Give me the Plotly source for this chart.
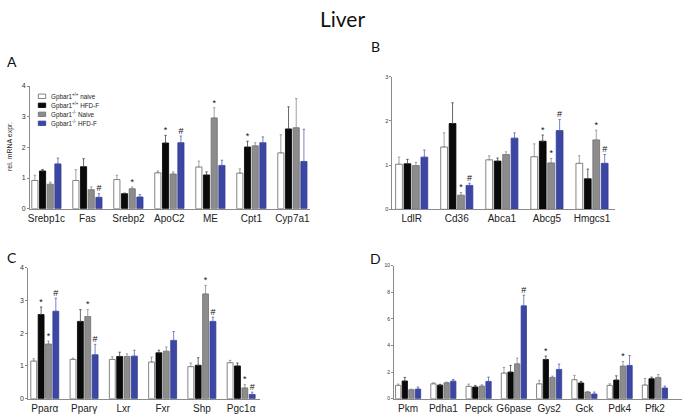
import plotly.graph_objects as go

W, H = 685, 415

series_names = ["Gpbar1<sup>+/+</sup> naive", "Gpbar1<sup>+/+</sup> HFD-F",
                "Gpbar1<sup>-/-</sup> Naive", "Gpbar1<sup>-/-</sup> HFD-F"]

# ---------------- Panel A ----------------
genes_A = ["Srebp1c", "Fas", "Srebp2", "ApoC2", "ME", "Cpt1", "Cyp7a1"]
A_wt_naive = [0.92, 0.92, 0.95, 1.17, 1.36, 1.16, 1.82]
A_wt_hfd   = [1.23, 1.37, 0.49, 2.14, 1.10, 2.01, 2.60]
A_ko_naive = [0.80, 0.62, 0.65, 1.13, 2.96, 2.05, 2.64]
A_ko_hfd   = [1.46, 0.37, 0.38, 2.15, 1.41, 2.15, 1.54]
A_err_wt_naive = [0.17, 0.35, 0.14, 0.06, 0.19, 0.14, 0.59]
A_err_wt_hfd   = [0.05, 0.26, 0.02, 0.25, 0.10, 0.19, 0.72]
A_err_ko_naive = [0.07, 0.09, 0.06, 0.07, 0.33, 0.10, 0.95]
A_err_ko_hfd   = [0.19, 0.12, 0.08, 0.22, 0.17, 0.19, 1.05]
A_sig_wt_hfd   = ["", "", "", "*", "", "*", ""]
A_sig_ko_naive = ["", "", "*", "", "*", "", ""]
A_sig_ko_hfd   = ["", "#", "", "#", "", "", ""]

# ---------------- Panel B ----------------
genes_B = ["LdlR", "Cd36", "Abca1", "Abcg5", "Hmgcs1"]
B_wt_naive = [1.02, 1.41, 1.12, 1.19, 1.04]
B_wt_hfd   = [1.03, 1.94, 1.09, 1.54, 0.69]
B_ko_naive = [0.99, 0.32, 1.24, 1.05, 1.57]
B_ko_hfd   = [1.18, 0.54, 1.61, 1.78, 1.04]
B_err_wt_naive = [0.16, 0.32, 0.09, 0.29, 0.17]
B_err_wt_hfd   = [0.10, 0.47, 0.07, 0.14, 0.22]
B_err_ko_naive = [0.07, 0.06, 0.06, 0.10, 0.22]
B_err_ko_hfd   = [0.16, 0.05, 0.12, 0.25, 0.20]
B_sig_wt_hfd   = ["", "", "", "*", ""]
B_sig_ko_naive = ["", "*", "", "*", "*"]
B_sig_ko_hfd   = ["", "#", "", "#", "#"]

# ---------------- Panel C ----------------
genes_C = ["Pparα", "Pparγ", "Lxr", "Fxr", "Shp", "Pgc1α"]
C_wt_naive = [1.15, 1.20, 1.20, 1.12, 0.98, 1.10]
C_wt_hfd   = [2.57, 2.36, 1.29, 1.40, 1.02, 1.00]
C_ko_naive = [1.67, 2.51, 1.29, 1.45, 3.20, 0.33]
C_ko_hfd   = [2.67, 1.34, 1.30, 1.78, 2.36, 0.13]
C_err_wt_naive = [0.07, 0.04, 0.08, 0.15, 0.11, 0.07]
C_err_wt_hfd   = [0.23, 0.36, 0.13, 0.08, 0.23, 0.09]
C_err_ko_naive = [0.09, 0.21, 0.08, 0.13, 0.26, 0.10]
C_err_ko_hfd   = [0.40, 0.32, 0.18, 0.27, 0.13, 0.07]
C_sig_wt_hfd   = ["*", "", "", "", "", ""]
C_sig_ko_naive = ["*", "*", "", "", "*", "*"]
C_sig_ko_hfd   = ["#", "#", "", "", "#", "#"]

# ---------------- Panel D ----------------
genes_D = ["Pkm", "Pdha1", "Pepck", "G6pase", "Gys2", "Gck", "Pdk4", "Pfk2"]
D_wt_naive = [1.00, 1.12, 0.93, 1.93, 1.12, 1.43, 1.00, 1.03]
D_wt_hfd   = [1.33, 1.02, 0.88, 2.00, 2.95, 1.18, 1.40, 1.50]
D_ko_naive = [0.68, 1.20, 0.95, 2.62, 1.60, 0.50, 2.45, 1.60]
D_ko_hfd   = [0.72, 1.32, 1.30, 6.98, 2.20, 0.35, 2.50, 0.80]
D_err_wt_naive = [0.10, 0.08, 0.17, 0.42, 0.26, 0.32, 0.12, 0.49]
D_err_wt_hfd   = [0.27, 0.06, 0.12, 0.50, 0.25, 0.12, 0.32, 0.12]
D_err_ko_naive = [0.04, 0.05, 0.10, 0.43, 0.10, 0.05, 0.35, 0.22]
D_err_ko_hfd   = [0.16, 0.13, 0.32, 0.80, 0.40, 0.15, 0.75, 0.15]
D_sig_wt_hfd   = ["", "", "", "", "*", "", "", ""]
D_sig_ko_naive = ["", "", "", "", "", "", "*", ""]
D_sig_ko_hfd   = ["", "", "", "#", "", "", "", ""]

# ---------------- styling ----------------
fills = ["#ffffff", "#0a0a0a", "#8c8c8c", "#3c46a3"]
outlines = ["#666666", "#000000", "#6e6e6e", "#323c96"]
errcols = ["#8a8a8a", "#444444", "#8a8a8a", "#5a63ad"]
BARGAP = 0.25
SLOT = (1 - BARGAP) / 4
AXCOL = "#8a8a8a"
LABEL_FONT = "Liberation Sans, Arial, sans-serif"


def pxx(x):
    return x / W


def pxy(y):
    return 1 - y / H


panels = [
    dict(genes=genes_A,
         vals=[A_wt_naive, A_wt_hfd, A_ko_naive, A_ko_hfd],
         errs=[A_err_wt_naive, A_err_wt_hfd, A_err_ko_naive, A_err_ko_hfd],
         sigs=[None, A_sig_wt_hfd, A_sig_ko_naive, A_sig_ko_hfd],
         xdom=(30, 310), ydom=(86, 208.7), xr=(-0.40, 6.43), yr=(0, 4), dt=1, tf=7),
    dict(genes=genes_B,
         vals=[B_wt_naive, B_wt_hfd, B_ko_naive, B_ko_hfd],
         errs=[B_err_wt_naive, B_err_wt_hfd, B_err_ko_naive, B_err_ko_hfd],
         sigs=[None, B_sig_wt_hfd, B_sig_ko_naive, B_sig_ko_hfd],
         xdom=(392.3, 615), ydom=(76.7, 209.3), xr=(-0.43, 4.51), yr=(0, 3), dt=1, tf=5.5),
    dict(genes=genes_C,
         vals=[C_wt_naive, C_wt_hfd, C_ko_naive, C_ko_hfd],
         errs=[C_err_wt_naive, C_err_wt_hfd, C_err_ko_naive, C_err_ko_hfd],
         sigs=[None, C_sig_wt_hfd, C_sig_ko_naive, C_sig_ko_hfd],
         xdom=(28.3, 260), ydom=(267.7, 398.7), xr=(-0.42, 5.48), yr=(0, 4), dt=1, tf=7),
    dict(genes=genes_D,
         vals=[D_wt_naive, D_wt_hfd, D_ko_naive, D_ko_hfd],
         errs=[D_err_wt_naive, D_err_wt_hfd, D_err_ko_naive, D_err_ko_hfd],
         sigs=[None, D_sig_wt_hfd, D_sig_ko_naive, D_sig_ko_hfd],
         xdom=(394, 681.7), ydom=(265.7, 398.7), xr=(-0.40, 7.76), yr=(0, 10), dt=2, tf=5),
]

fig = go.Figure()
layout = dict(
    template="none",
    width=W, height=H, margin=dict(l=0, r=0, t=0, b=0, pad=0, autoexpand=False),
    paper_bgcolor="white", plot_bgcolor="white",
    barmode="group", bargap=BARGAP, bargroupgap=0.2,
    showlegend=False,
    font=dict(family=LABEL_FONT, color="#222222"),
)

for k, p in enumerate(panels):
    sfx = "" if k == 0 else str(k + 1)
    xa, ya = "x" + sfx, "y" + sfx
    n = len(p["genes"])
    xs = list(range(n))
    for j in range(4):
        fig.add_trace(go.Bar(
            x=xs, y=p["vals"][j], name=series_names[j],
            marker=dict(color=fills[j], line=dict(color=outlines[j], width=0.8)),
            error_y=dict(type="data", array=p["errs"][j], arrayminus=[0] * n,
                         symmetric=False, color=errcols[j], thickness=0.8, width=1.2),
            xaxis=xa, yaxis=ya, showlegend=False, hoverinfo="skip",
        ))
    for j in range(1, 4):
        sig = p["sigs"][j]
        sx, sy, st = [], [], []
        for i in range(n):
            if sig[i]:
                sx.append(i + (j - 1.5) * SLOT)
                sy.append(p["vals"][j][i] + p["errs"][j][i])
                st.append(sig[i])
        if sx:
            fig.add_trace(go.Scatter(
                x=sx, y=sy, text=st, mode="text", textposition="top center",
                textfont=dict(size=9, color="#111111", family=LABEL_FONT),
                xaxis=xa, yaxis=ya, showlegend=False, hoverinfo="skip", cliponaxis=False,
            ))
    layout["xaxis" + sfx] = dict(
        domain=[pxx(p["xdom"][0]), pxx(p["xdom"][1])], anchor=ya,
        range=list(p["xr"]), tickvals=xs, ticktext=p["genes"], automargin=False,
        showline=True, linecolor=AXCOL, linewidth=1, ticks="",
        showgrid=False, zeroline=False, tickfont=dict(size=10, color="#222222"),
    )
    layout["yaxis" + sfx] = dict(
        domain=[pxy(p["ydom"][1]), pxy(p["ydom"][0])], anchor=xa, automargin=False,
        range=list(p["yr"]), dtick=p["dt"], tick0=0,
        showline=True, linecolor=AXCOL, linewidth=1, ticks="outside", ticklen=2,
        tickcolor=AXCOL, tickwidth=1, showgrid=False, zeroline=False,
        tickfont=dict(size=p["tf"], color="#333333"),
    )

annotations = [
    dict(text="Liver", x=pxx(342.5), y=pxy(18), xref="paper", yref="paper",
         xanchor="center", yanchor="middle", showarrow=False,
         font=dict(family="Lato, sans-serif", size=21, color="#111111")),
    dict(text="rel. mRNA expr.", x=pxx(10), y=pxy(147), xref="paper", yref="paper",
         xanchor="center", yanchor="middle", showarrow=False, textangle=-90,
         font=dict(size=7, color="#222222")),
]
for letter, lx, ly in [("A", 12, 62), ("B", 375, 47), ("C", 12, 257), ("D", 375, 258)]:
    annotations.append(dict(text=letter, x=pxx(lx), y=pxy(ly), xref="paper", yref="paper",
                            xanchor="center", yanchor="middle", showarrow=False,
                            font=dict(family="Lato, sans-serif", size=14, color="#111111")))

shapes = []
for j in range(4):
    cy = 96.3 + 9 * j
    shapes.append(dict(type="rect", xref="paper", yref="paper",
                       x0=pxx(38.3), x1=pxx(45.7), y0=pxy(cy + 2.2), y1=pxy(cy - 2.2),
                       fillcolor=fills[j], line=dict(color=outlines[j], width=0.8)))
    annotations.append(dict(text=series_names[j], x=pxx(49), y=pxy(cy), xref="paper",
                            yref="paper", xanchor="left", yanchor="middle", showarrow=False,
                            font=dict(size=6.3, color="#222222")))

layout["annotations"] = annotations
layout["shapes"] = shapes
fig.update_layout(**layout)
fig.write_html("out.html", config={"displayModeBar": False},
               post_script="document.body.style.margin='0';document.body.style.overflow='hidden';")
